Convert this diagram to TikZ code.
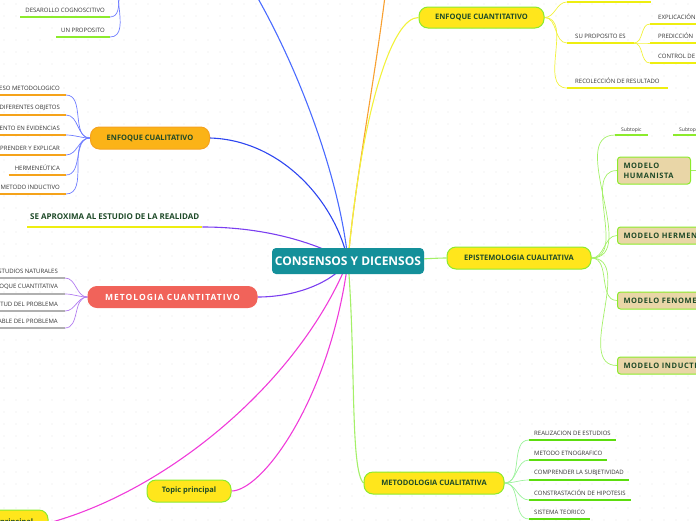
\documentclass[tikz,border=0pt]{standalone}
\usepackage{fontspec}
\setmainfont{Open Sans}
\usetikzlibrary{calc}
\pgfdeclarelayer{background}
\pgfsetlayers{background,main}
\definecolor{mmteal}{HTML}{14909A}
\definecolor{mmink}{HTML}{1E4A28}
\definecolor{mmgrey}{HTML}{333333}
\definecolor{mmyellow}{HTML}{FFE61C}
\definecolor{mmlime}{HTML}{8CEB2C}
\definecolor{mmorange}{HTML}{FBB317}
\definecolor{mmdeeporange}{HTML}{F5A21F}
\definecolor{mmred}{HTML}{F1635A}
\definecolor{mmtan}{HTML}{E9D6A7}
\definecolor{lnblue}{HTML}{2D45F0}
\definecolor{lnskyblue}{HTML}{4A6BFF}
\definecolor{lnorange}{HTML}{F8A030}
\definecolor{lnyellow}{HTML}{F2F23C}
\definecolor{lngreen}{HTML}{A4F068}
\definecolor{lnpurple}{HTML}{7B3FF0}
\definecolor{lnmagenta}{HTML}{F03CDA}
\definecolor{lnlilac}{HTML}{B27CF0}
\definecolor{lnpaleblue}{HTML}{6F7DFF}
\definecolor{lnpalegreen}{HTML}{9CF29C}
\definecolor{ulgreen}{HTML}{5CDD0E}
\definecolor{ulgrey}{HTML}{B0B0B0}
\definecolor{ulorange}{HTML}{F5A31A}
\definecolor{ulyellow}{HTML}{EEEE10}
\definecolor{dotgrey}{HTML}{E4E4E4}
\begin{document}
\begin{tikzpicture}[x=1pt,y=-1pt,
  centre/.style={fill=mmteal,rounded corners=4pt,text=white,font=\bfseries\fontsize{12}{14}\selectfont,
    minimum width=152pt,minimum height=26pt,inner sep=0pt},
  topic/.style={fill=mmyellow,draw=mmlime,line width=1pt,rounded corners=9pt,text=mmink,
    font=\bfseries\fontsize{7.5}{9}\selectfont,minimum height=22pt,inner sep=0pt},
  model/.style={fill=mmtan,draw=mmlime,line width=1pt,rounded corners=3pt,text=mmink,
    font=\bfseries\fontsize{7.5}{10}\selectfont\addfontfeatures{LetterSpace=8},
    anchor=west,minimum height=17pt,inner xsep=6pt,align=left},
  leaf/.style={text=mmgrey,font=\fontsize{6}{7}\selectfont,inner xsep=5pt,inner ysep=4pt},
  branch/.style={line width=1.1pt},
  twig/.style={line width=0.7pt},
  uline/.style={line width=1.3pt}]
  \useasboundingbox (0,0) rectangle (696,520);
  \clip (0,0) rectangle (696,520);

  % Central topic
  \node[centre] (cnsd) at (348,261) {CONSENSOS Y DICENSOS};

  % Main topics
  \node[topic,fill=mmorange,draw=mmdeeporange,minimum width=119pt] (encual) at (150,138) {ENFOQUE CUALITATIVO};
  \node[topic,fill=mmred,draw=mmred,text=white,minimum width=169pt,minimum height=21pt,
    font=\bfseries\fontsize{8.5}{10}\selectfont\addfontfeatures{LetterSpace=12}] (metcuan) at (172.5,297) {METOLOGIA CUANTITATIVO};
  \node[topic,minimum width=84pt] (topic) at (189,491) {Topic principal};
  \node[topic,minimum width=84pt,minimum height=26pt] (topicb) at (6,523) {Topic principal};
  \node[topic,minimum width=125pt,minimum height=21pt] (encuan) at (481.5,17.5) {ENFOQUE CUANTITATIVO};
  \node[topic,minimum width=144pt] (epist) at (519,258) {EPISTEMOLOGIA CUALITATIVA};
  \node[topic,minimum width=140pt] (metcual) at (434,483) {METODOLOGIA CUALITATIVA};
  \node[anchor=south west,inner xsep=3pt,inner ysep=7pt,text=mmink,font=\bfseries\fontsize{8}{9}\selectfont]
    (aprox) at (27,227) {SE APROXIMA AL ESTUDIO DE LA REALIDAD};

  % Parents outside the frame
  \coordinate (topblue) at (252,-12);
  \coordinate (toporange) at (386,-12);
  \coordinate (cogn) at (128,-24);

  % Models of the epistemology
  \node[model,text width=61pt,minimum height=27pt] (human) at (617,170.5) {MODELO\\HUMANISTA};
  \node[model] (herm) at (617,235.5) {MODELO HERMENEUTICO};
  \node[model] (fenom) at (617,300.5) {MODELO FENOMEDOLOGICO};
  \node[model] (induc) at (617,365.5) {MODELO INDUCTIVO};
  \coordinate (humkid) at (710,170.5);
  \node[leaf,font=\fontsize{5}{6}\selectfont,anchor=south west,inner xsep=6pt,inner ysep=2pt] (sub1) at (615,135) {Subtopic};
  \node[leaf,font=\fontsize{5}{6}\selectfont,anchor=south west,inner xsep=6pt,inner ysep=2pt] (sub2) at (673,135) {Subtopic};

  \begin{pgfonlayer}{background}
    % dotted canvas
    \foreach \gx in {4,16,...,700} {
      \foreach \gy in {4,16,...,520} {
        \fill[dotgrey] (\gx,\gy) circle (0.7pt);
      }
    }
    % main branches
    \draw[branch,lnskyblue] (topblue) .. controls (300,70) and (340,180) .. (cnsd.center);
    \draw[branch,lnorange] (toporange) .. controls (375,80) and (355,180) .. (cnsd.center);
    \draw[branch,lnyellow] (encuan.west) .. controls (392,17) and (362,110) .. (cnsd.center);
    \draw[branch,lnblue] (encual.east) .. controls (280,140) and (335,200) .. (cnsd.center);
    \draw[branch,lnpurple] (aprox.south east) .. controls (270,227) and (320,245) .. (cnsd.center);
    \draw[branch,lnpurple] (metcuan.east) .. controls (300,297) and (335,280) .. (cnsd.center);
    \draw[branch,lnmagenta] (topic.east) .. controls (262,491) and (330,400) .. (cnsd.center);
    \draw[branch,lnmagenta] (topicb.east) .. controls (170,490) and (300,380) .. (cnsd.center);
    \draw[branch,lngreen] (epist.west) .. controls (430,258) and (400,261) .. (cnsd.center);
    \draw[branch,lngreen] (metcual.west) .. controls (350,470) and (356,360) .. (cnsd.center);
    \draw[uline,ulyellow] (aprox.south west) -- (aprox.south east);
    % epistemology links
    \foreach \m in {human,herm,fenom,induc} {
      \draw[twig,lngreen] (epist.east) to[out=0,in=180] (\m.west);
    }
    \draw[twig,lngreen] (epist.east) to[out=0,in=180] (sub1.south west);
    \draw[twig,lngreen] (human.east) -- (humkid);
    \draw[uline,mmlime] (sub1.south west) -- (sub1.south east);
    \draw[uline,mmlime] (sub2.south west) -- ++(40,0);
  \end{pgfonlayer}

  % Leaves of the top-left branch
  \foreach \y/\txt [count=\i] in {17/DESAROLLO COGNOSCITIVO,37/UN PROPOSITO} {
    \node[leaf,anchor=south east] (dv\i) at (110,\y) {\txt};
    \begin{pgfonlayer}{background}
      \draw[uline,mmlime] (dv\i.south west) -- (dv\i.south east);
      \draw[twig,lnpaleblue] (cogn) to[out=180,in=0] (dv\i.south east);
    \end{pgfonlayer}
  }

  % Leaves of ENFOQUE CUALITATIVO
  \foreach \y/\txt [count=\i] in {95/PROCESO METODOLOGICO,115/ESTUDIA DIFERENTES OBJETOS,
      135/FUNDAMENTO EN EVIDENCIAS,155/COMPRENDER Y EXPLICAR,175/HERMENEÚTICA,194/METODO INDUCTIVO} {
    \node[leaf,anchor=south east,inner xsep=6pt] (cl\i) at (66,\y) {\txt};
    \begin{pgfonlayer}{background}
      \draw[uline,ulorange] (cl\i.south west) -- (cl\i.south east);
      \draw[twig,lnpaleblue] (encual.west) to[out=180,in=0] (cl\i.south east);
    \end{pgfonlayer}
  }

  % Leaves of METOLOGIA CUANTITATIVO
  \foreach \y/\txt [count=\i] in {278/ESTUDIOS NATURALES,294/ENFOQUE CUANTITATIVA,
      311/MAGNITUD DEL PROBLEMA,328/VARIABLE DEL PROBLEMA} {
    \node[leaf,anchor=south east,inner xsep=7pt] (mq\i) at (65,\y) {\txt};
    \begin{pgfonlayer}{background}
      \draw[uline,ulgrey] (mq\i.south west) -- (mq\i.south east);
      \draw[twig,lnlilac] (metcuan.west) to[out=180,in=0] (mq\i.south east);
    \end{pgfonlayer}
  }

  % Leaves of ENFOQUE CUANTITATIVO
  \coordinate (q0) at (567,2);
  \coordinate (q0e) at (651,2);
  \node[leaf,anchor=south west,inner xsep=8pt] (supro) at (567,43) {SU PROPOSITO ES};
  \node[leaf,anchor=south west,inner xsep=8pt] (recol) at (567,88) {RECOLECCIÓN DE RESULTADO};
  \begin{pgfonlayer}{background}
    \draw[uline,ulyellow] (q0) -- (q0e);
    \draw[uline,ulyellow] (supro.south west) -- (supro.south east);
    \draw[uline,ulyellow] (recol.south west) -- (recol.south east);
    \foreach \n in {q0,supro.south west,recol.south west} {
      \draw[twig,lnyellow] (encuan.east) to[out=0,in=180] (\n);
    }
  \end{pgfonlayer}
  \foreach \y/\txt [count=\i] in {24/EXPLICACIÓN,43/PREDICCIÓN,63/CONTROL DE FENÓMENOS} {
    \node[leaf,anchor=south west,inner xsep=8pt] (fin\i) at (650,\y) {\txt};
    \begin{pgfonlayer}{background}
      \draw[uline,ulyellow] (fin\i.south west) -- (fin\i.south east);
      \draw[twig,lnyellow] (supro.south east) to[out=0,in=180] (fin\i.south west);
    \end{pgfonlayer}
  }

  % Leaves of METODOLOGIA CUALITATIVA
  \foreach \y/\txt [count=\i] in {440/REALIZACION DE ESTUDIOS,460/METODO ETNOGRAFICO,
      480/COMPRENDER LA SUBJETIVIDAD,500/CONSTRASTACIÓN DE HIPOTESIS,519/SISTEMA TEORICO} {
    \node[leaf,anchor=south west] (mc\i) at (529,\y) {\txt};
    \begin{pgfonlayer}{background}
      \draw[uline,ulgreen] (mc\i.south west) -- (mc\i.south east);
      \draw[twig,lnpalegreen] (metcual.east) to[out=0,in=180] (mc\i.south west);
    \end{pgfonlayer}
  }
\end{tikzpicture}
\end{document}
